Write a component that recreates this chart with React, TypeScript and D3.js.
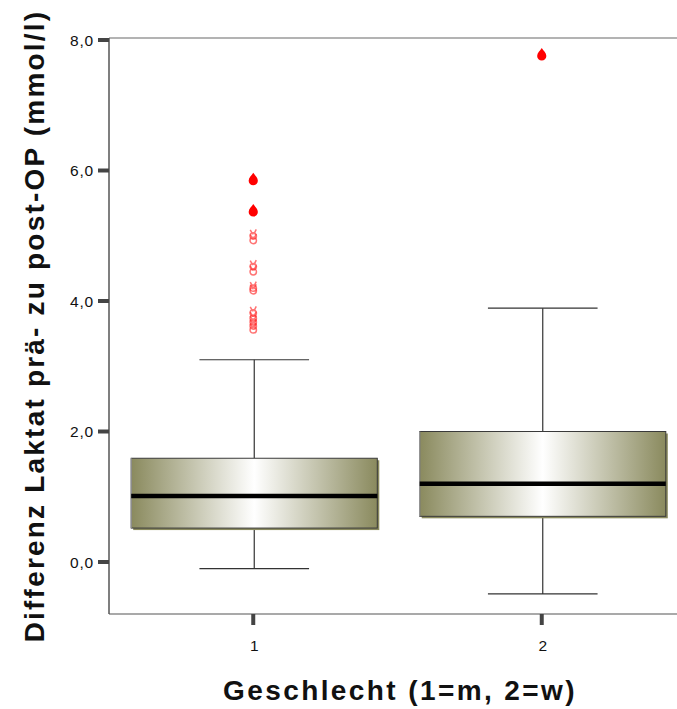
import React from "react";
import * as d3 from "d3";

// Lactate difference (pre- to post-OP) by sex
const groups = ["1", "2"];
const q1 = [0.52, 0.7];
const medians = [1.01, 1.2];
const q3 = [1.59, 2.0];
const whiskerLow = [-0.1, -0.49];
const whiskerHigh = [3.1, 3.89];
// mild outliers (open symbols) per group
const outliersMild = [[5.02, 4.95, 4.55, 4.47, 4.22, 4.18, 3.84, 3.76, 3.7, 3.64, 3.58], []];
// extreme values (filled drops) per group
const outliersExtreme = [[5.86, 5.38], [7.77]];
const yTicks = [0, 2, 4, 6, 8];

const W = 677;
const H = 709;
const left = 109;
const top = 38;
const bottom = 614;
const right = 677;

const y = d3.scaleLinear().domain([0, 8]).range([562, 40]);
const x = d3.scalePoint<string>().domain(groups).range([left, 686]).padding(0.5);
const step = x.step();
const boxW = step * 0.853;
const capW = step * 0.38;

const olive = "#8a8a5e";
const fmt = (v: number) => d3.format(".1f")(v).replace(".", ",");

const dropPath =
  "M0,-7 C1.6,-4.5 4.6,-2 4.6,1 A4.6,4.6 0 1 1 -4.6,1 C-4.6,-2 -1.6,-4.5 0,-7 Z";

export default function App() {
  return (
    <svg
      width={W}
      height={H}
      style={{ position: "absolute", left: 0, top: 0, background: "#fff" }}
      fontFamily="'Liberation Sans', Arial, sans-serif"
    >
      <defs>
        <linearGradient id="boxFill" x1="0" x2="1" y1="0" y2="0">
          <stop offset="0%" stopColor={olive} />
          <stop offset="50%" stopColor="#ffffff" />
          <stop offset="100%" stopColor={olive} />
        </linearGradient>
      </defs>

      {/* frame */}
      <line x1={left} x2={right} y1={top} y2={top} stroke="#9a9a9a" strokeWidth={1.5} />
      <line x1={left} x2={right} y1={bottom} y2={bottom} stroke="#555" strokeWidth={1.2} />
      <line x1={left} x2={left} y1={top} y2={bottom} stroke="#555" strokeWidth={1.5} />

      {/* y ticks */}
      {yTicks.map((t) => (
        <g key={t}>
          <line x1={98} x2={left} y1={y(t)} y2={y(t)} stroke="#444" strokeWidth={4} />
          <text
            x={94}
            y={y(t)}
            dy="0.36em"
            textAnchor="end"
            fontSize={15.5}
            letterSpacing={0.8}
            fill="#111"
          >
            {fmt(t)}
          </text>
        </g>
      ))}

      {/* x ticks */}
      {groups.map((g) => (
        <g key={g}>
          <line x1={x(g)!} x2={x(g)!} y1={bottom} y2={625} stroke="#444" strokeWidth={4} />
          <text x={x(g)! + 1} y={651} textAnchor="middle" fontSize={15.5} fill="#111">
            {g}
          </text>
        </g>
      ))}

      {/* boxes */}
      {groups.map((g, i) => {
        const cx = x(g)! + 1;
        const x0 = cx - boxW / 2;
        const yTop = y(q3[i]);
        const yBot = y(q1[i]);
        return (
          <g key={g}>
            <line x1={cx} x2={cx} y1={y(whiskerHigh[i])} y2={yTop} stroke="#333" strokeWidth={1.2} />
            <line x1={cx} x2={cx} y1={yBot} y2={y(whiskerLow[i])} stroke="#333" strokeWidth={1.2} />
            <line
              x1={cx - capW / 2}
              x2={cx + capW / 2}
              y1={y(whiskerHigh[i])}
              y2={y(whiskerHigh[i])}
              stroke="#333"
              strokeWidth={1.2}
            />
            <line
              x1={cx - capW / 2}
              x2={cx + capW / 2}
              y1={y(whiskerLow[i])}
              y2={y(whiskerLow[i])}
              stroke="#333"
              strokeWidth={1.2}
            />
            <rect x={x0 + 2} y={yTop + 2} width={boxW} height={yBot - yTop} fill={olive} />
            <rect
              x={x0}
              y={yTop}
              width={boxW}
              height={yBot - yTop}
              fill="url(#boxFill)"
              stroke="#3a3a3a"
              strokeWidth={1}
            />
            <line x1={x0} x2={x0} y1={yTop} y2={yBot} stroke="#9a9a9a" strokeWidth={1.2} />
            <line x1={x0} x2={x0 + boxW} y1={y(medians[i])} y2={y(medians[i])} stroke="#000" strokeWidth={4.5} />
          </g>
        );
      })}

      {/* outliers */}
      {groups.map((g, i) => (
        <g key={g}>
          {outliersMild[i].map((v, j) => (
            <g key={j} transform={`translate(${x(g)!},${y(v)})`} opacity={0.65}>
              <circle cx={0} cy={1.5} r={3.2} fill="none" stroke="#ff2a2a" strokeWidth={1.5} />
              <path d="M-3,-4.5 L-0.5,0 M3,-5 L0.5,0" stroke="#ff2a2a" strokeWidth={1.5} fill="none" />
            </g>
          ))}
          {outliersExtreme[i].map((v, j) => (
            <path key={`e${j}`} d={dropPath} transform={`translate(${x(g)!},${y(v)})`} fill="#ff0000" />
          ))}
        </g>
      ))}

      {/* axis titles */}
      <text
        transform="translate(44,326) rotate(-90)"
        textAnchor="middle"
        fontSize={28}
        fontWeight="bold"
        letterSpacing={2.2}
        fill="#111"
      >
        Differenz Laktat prä- zu post-OP (mmol/l)
      </text>
      <text
        x={400}
        y={700}
        textAnchor="middle"
        fontSize={28}
        fontWeight="bold"
        letterSpacing={2.4}
        fill="#111"
      >
        Geschlecht (1=m, 2=w)
      </text>
    </svg>
  );
}
